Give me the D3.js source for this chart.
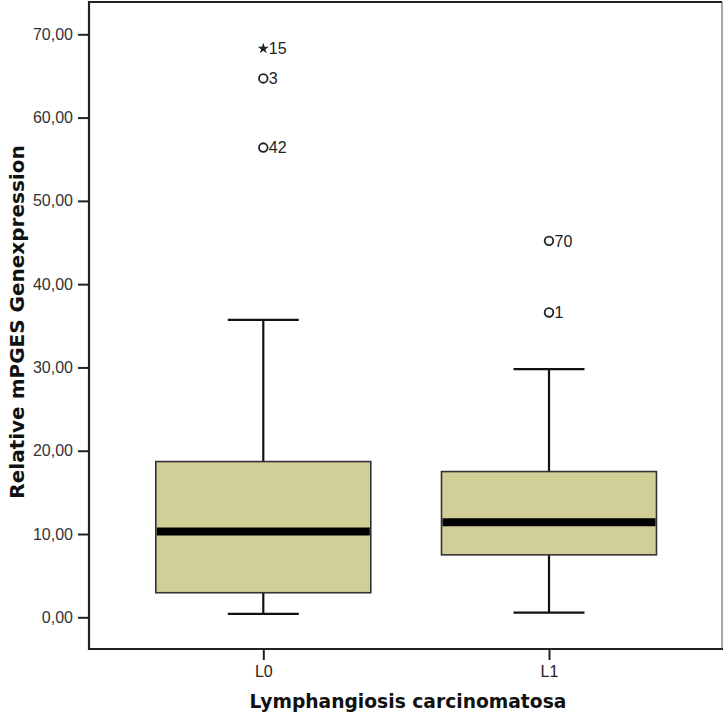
<!DOCTYPE html>
<html>
<head>
<meta charset="utf-8">
<script src="https://cdn.jsdelivr.net/npm/d3@7/dist/d3.min.js"></script>
<style>
  html, body { margin: 0; padding: 0; background: #fff; }
  svg { display: block; }
  text { font-family: "Liberation Sans", Arial, sans-serif; }
  .title { font-family: "DejaVu Sans", Verdana, sans-serif; font-weight: bold; }
</style>
</head>
<body>
<div id="chart"></div>
<script>
// Groups on the x axis
const categories = ["L0", "L1"];
// Box statistics per group: lower whisker, Q1, median, Q3, upper whisker
const whiskerLow = [0.4, 0.55];
const q1 = [2.95, 7.5];
const median = [10.3, 11.4];
const q3 = [18.7, 17.5];
const whiskerHigh = [35.7, 29.8];
// Outliers per group: value, case label, kind ("o" = outlier, "x" = extreme)
const outlierGroup = ["L0", "L0", "L0", "L1", "L1"];
const outlierValue = [68.3, 64.7, 56.4, 45.2, 36.6];
const outlierLabel = ["15", "3", "42", "70", "1"];
const outlierKind = ["x", "o", "o", "o", "o"];
// Y axis ticks
const yTicks = [0, 10, 20, 30, 40, 50, 60, 70];

const W = 723, H = 715;
const frame = { left: 89, top: 2, right: 722, bottom: 649 };

const svg = d3.select("#chart").append("svg")
  .attr("width", W).attr("height", H);

const y = d3.scaleLinear().domain([0, 70]).range([617.3, 34.3]);
const x = d3.scalePoint().domain(categories)
  .range([263.3, 549]);
const boxW = 215;
const capW = 71;

// Y axis
const yAxis = d3.axisLeft(y).tickValues(yTicks).tickSize(11).tickPadding(5)
  .tickFormat(d => d3.format(".2f")(d).replace(".", ","));
const gy = svg.append("g").attr("transform", `translate(${frame.left},0)`).call(yAxis);
gy.select(".domain").remove();
gy.selectAll(".tick line").attr("stroke", "#222").attr("stroke-width", 2);
gy.selectAll(".tick text").attr("fill", "#333").style("font-size", "16px");

// X axis
const xAxis = d3.axisBottom(x).tickSize(11).tickPadding(6);
const gx = svg.append("g").attr("transform", `translate(0,${frame.bottom})`).call(xAxis);
gx.select(".domain").remove();
gx.selectAll(".tick line").attr("stroke", "#222").attr("stroke-width", 2);
gx.selectAll(".tick text").attr("fill", "#222").style("font-size", "16px");

// Frame
svg.append("line").attr("x1", frame.right).attr("x2", frame.right)
  .attr("y1", frame.top).attr("y2", frame.bottom)
  .attr("stroke", "#888").attr("stroke-width", 1.5);
svg.append("path")
  .attr("d", `M${frame.right},${frame.top}H${frame.left}V${frame.bottom}H${frame.right + 1}`)
  .attr("fill", "none").attr("stroke", "#222").attr("stroke-width", 2.2);

// Boxes
const boxes = categories.map((c, i) => ({
  c, lo: whiskerLow[i], q1: q1[i], med: median[i], q3: q3[i], hi: whiskerHigh[i]
}));

const gb = svg.append("g");
boxes.forEach(b => {
  const cx = x(b.c);
  // whiskers
  gb.append("line").attr("x1", cx).attr("x2", cx).attr("y1", y(b.q3)).attr("y2", y(b.hi))
    .attr("stroke", "#111").attr("stroke-width", 2.2);
  gb.append("line").attr("x1", cx).attr("x2", cx).attr("y1", y(b.q1)).attr("y2", y(b.lo))
    .attr("stroke", "#111").attr("stroke-width", 2.2);
  gb.append("line").attr("x1", cx - capW / 2).attr("x2", cx + capW / 2)
    .attr("y1", y(b.hi)).attr("y2", y(b.hi)).attr("stroke", "#111").attr("stroke-width", 2.2);
  gb.append("line").attr("x1", cx - capW / 2).attr("x2", cx + capW / 2)
    .attr("y1", y(b.lo)).attr("y2", y(b.lo)).attr("stroke", "#111").attr("stroke-width", 2.2);
  // box
  gb.append("rect").attr("x", cx - boxW / 2).attr("width", boxW)
    .attr("y", y(b.q3)).attr("height", y(b.q1) - y(b.q3))
    .attr("fill", "#d2ce98").attr("stroke", "#333").attr("stroke-width", 1.6);
  // median
  gb.append("line").attr("x1", cx - boxW / 2 + 1).attr("x2", cx + boxW / 2 - 1)
    .attr("y1", y(b.med)).attr("y2", y(b.med)).attr("stroke", "#000").attr("stroke-width", 8);
});

// Outliers
const outliers = outlierValue.map((v, i) => ({
  g: outlierGroup[i], v, label: outlierLabel[i], kind: outlierKind[i]
}));
const star = d3.symbol().type(d3.symbolStar).size(38);
const go = svg.append("g");
outliers.forEach(o => {
  const cx = x(o.g), cy = y(o.v);
  if (o.kind === "o") {
    go.append("circle").attr("cx", cx).attr("cy", cy).attr("r", 4.3)
      .attr("fill", "none").attr("stroke", "#222").attr("stroke-width", 1.8);
  } else {
    go.append("path").attr("d", star).attr("transform", `translate(${cx},${cy})`)
      .attr("fill", "#222");
  }
  go.append("text").attr("x", cx + 5.5).attr("y", cy).attr("dy", "0.36em")
    .attr("fill", "#222").style("font-size", "16px").text(o.label);
});

// Axis titles
svg.append("text").attr("class", "title")
  .attr("x", 408).attr("y", 708)
  .attr("text-anchor", "middle").style("font-size", "18.7px")
  .attr("fill", "#111").text("Lymphangiosis carcinomatosa");
svg.append("text").attr("class", "title")
  .attr("transform", `translate(24,322) rotate(-90)`)
  .attr("text-anchor", "middle").style("font-size", "20px")
  .attr("fill", "#111").text("Relative mPGES Genexpression");
</script>
</body>
</html>
